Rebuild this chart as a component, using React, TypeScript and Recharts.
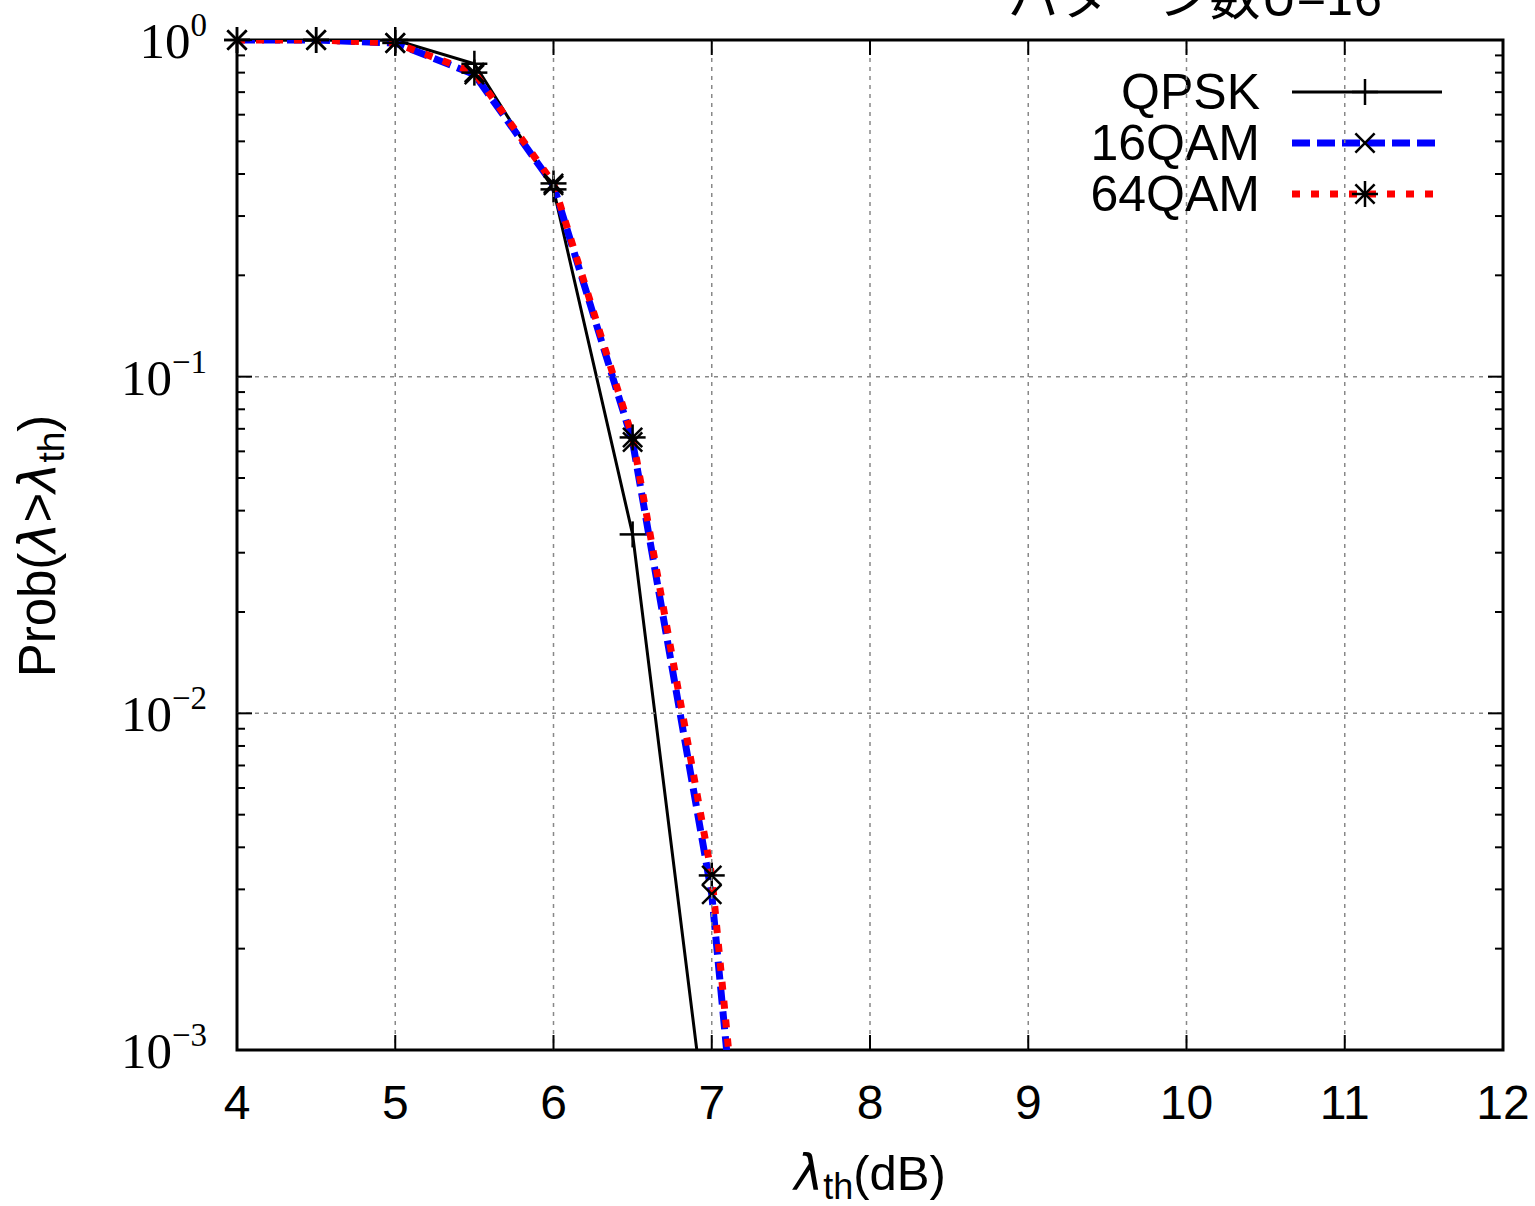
import { LineChart, Line, XAxis, YAxis, ReferenceArea, Customized } from "recharts";

// λth (dB) sample points
const thresholds = [4, 4.5, 5, 5.5, 6, 6.5, 7, 7.5];
const qpsk = [1, 1, 1, 0.85, 0.36, 0.034, 0.00044];
const qam16 = [1, 1, 0.98, 0.79, 0.37, 0.064, 0.0029, 0.00001];
const qam64 = [1, 1, 0.98, 0.8, 0.375, 0.066, 0.0033, 0.000012];

const xTicks = [4, 5, 6, 7, 8, 9, 10, 11, 12];
const decades = [1, 0.1, 0.01, 0.001];
const minorSteps = [2, 3, 4, 5, 6, 7, 8, 9];

const W = 1535;
const H = 1206;
const PL = 237;
const PR = 1503;
const PT = 40;
const PB = 1050;
const YMIN = 0.001;

const data = thresholds.map((x, i) => ({
  x,
  qpsk: qpsk[i],
  qam16: qam16[i],
  qam64: qam64[i],
}));

const yTicks = [
  ...decades,
  ...decades.slice(1).flatMap((d) => minorSteps.map((m) => d * m)),
];

const series = [
  { key: "qpsk", name: "QPSK", color: "#000", width: 3, dash: undefined, marker: "plus" },
  { key: "qam16", name: "16QAM", color: "#0000ff", width: 7, dash: "18 7", marker: "cross" },
  { key: "qam64", name: "64QAM", color: "#ff0000", width: 7, dash: "8 11", marker: "star" },
];

function markerShape(kind: string, cx: number, cy: number) {
  const r = 12;
  const plus = (
    <g key="p">
      <line x1={cx - r - 1} x2={cx + r + 1} y1={cy} y2={cy} stroke="#000" strokeWidth={2.5} />
      <line x1={cx} x2={cx} y1={cy - r - 1} y2={cy + r + 1} stroke="#000" strokeWidth={2.5} />
    </g>
  );
  const d = r * 0.8;
  const cross = (
    <g key="c">
      <line x1={cx - d} x2={cx + d} y1={cy - d} y2={cy + d} stroke="#000" strokeWidth={2.5} />
      <line x1={cx - d} x2={cx + d} y1={cy + d} y2={cy - d} stroke="#000" strokeWidth={2.5} />
    </g>
  );
  if (kind === "plus") return <g>{plus}</g>;
  if (kind === "cross") return <g>{cross}</g>;
  return (
    <g>
      {plus}
      {cross}
    </g>
  );
}

const makeDot = (kind: string) => (props: any) => {
  const { cx, cy, index } = props;
  if (cx == null || cy == null || isNaN(cx) || isNaN(cy)) return <g key={index} />;
  return <g key={index}>{markerShape(kind, cx, cy)}</g>;
};

function YTick(props: any) {
  const { y, payload } = props;
  const v = payload.value;
  const lg = Math.log10(v);
  const exp = Math.round(lg);
  const major = Math.abs(lg - exp) < 1e-9;
  const len = major ? 15 : 8;
  return (
    <g>
      {major && v < 1 && v > YMIN && (
        <line x1={PL} x2={PR} y1={y} y2={y} stroke="#888" strokeWidth={1.5} strokeDasharray="4 5" />
      )}
      <line x1={PL} x2={PL + len} y1={y} y2={y} stroke="#000" strokeWidth={2} />
      <line x1={PR} x2={PR - len} y1={y} y2={y} stroke="#000" strokeWidth={2} />
      {major && (
        <text x={207} y={y + 18} textAnchor="end" fontFamily="Liberation Serif" fontSize={51} fill="#000">
          10
          <tspan dy={-22} fontSize={33}>
            {exp === 0 ? "0" : "\u2212" + -exp}
          </tspan>
        </text>
      )}
    </g>
  );
}

function XTick(props: any) {
  const { x, payload } = props;
  const v = payload.value;
  return (
    <g>
      {v > 4 && v < 12 && (
        <line x1={x} x2={x} y1={PT} y2={PB} stroke="#888" strokeWidth={1.5} strokeDasharray="4 5" />
      )}
      <line x1={x} x2={x} y1={PB} y2={PB - 15} stroke="#000" strokeWidth={2} />
      <line x1={x} x2={x} y1={PT} y2={PT + 15} stroke="#000" strokeWidth={2} />
      <text x={x} y={1119} textAnchor="middle" fontFamily="Liberation Sans" fontSize={48} fill="#000">
        {v}
      </text>
    </g>
  );
}

function LegendBox() {
  const ox = 1060;
  const oy = 60;
  return (
    <g>
      {series.map((s, i) => {
        const cy = oy + 32 + i * 51;
        return (
          <g key={s.key}>
            <text x={ox + 200} y={cy + 17} textAnchor="end" fontFamily="Liberation Sans" fontSize={50} fill="#000">
              {s.name}
            </text>
            <line x1={ox + 232} x2={ox + 382} y1={cy} y2={cy} stroke={s.color} strokeWidth={s.width} strokeDasharray={s.dash} />
            {markerShape(s.marker, ox + 305, cy)}
          </g>
        );
      })}
    </g>
  );
}

function Extras() {
  return (
    <g>
      <text x={1008} y={15} fontFamily="Noto Sans CJK JP" fontSize={51} fill="#000">
        パターン数U=16
      </text>
      <text x={870} y={1190} textAnchor="middle" fontFamily="Liberation Sans" fontSize={49} fill="#000">
        <tspan fontFamily="DejaVu Sans" fontStyle="italic">λ</tspan>
        <tspan fontSize={36} dy={9}>th</tspan>
        <tspan dy={-9}>(dB)</tspan>
      </text>
      <text
        x={55}
        y={546}
        textAnchor="middle"
        transform="rotate(-90 55 546)"
        fontFamily="Liberation Sans"
        fontSize={51}
        fill="#000"
      >
        Prob(
        <tspan fontFamily="DejaVu Sans" fontStyle="italic">λ</tspan>
        &gt;
        <tspan fontFamily="DejaVu Sans" fontStyle="italic">λ</tspan>
        <tspan fontSize={37} dy={9}>th</tspan>
        <tspan dy={-9}>)</tspan>
      </text>
      <LegendBox />
    </g>
  );
}

export default function App() {
  return (
    <div style={{ position: "absolute", left: 0, top: 0, width: W, height: H, background: "#fff" }}>
      <LineChart width={W} height={H} data={data} margin={{ top: PT, right: W - PR, bottom: 0, left: 0 }}>
        <XAxis
          dataKey="x"
          type="number"
          domain={[4, 12]}
          ticks={xTicks}
          interval={0}
          height={H - PB}
          tickSize={0}
          tickMargin={0}
          axisLine={false}
          tickLine={false}
          tick={<XTick />}
        />
        <YAxis
          scale="log"
          domain={[YMIN, 1]}
          ticks={yTicks}
          interval={0}
          allowDataOverflow
          width={PL}
          tickSize={0}
          tickMargin={0}
          axisLine={false}
          tickLine={false}
          tick={<YTick />}
        />
        {/* same log scale, only carries in-range points so markers on the frame aren't clipped */}
        <YAxis yAxisId="marks" scale="log" domain={[YMIN, 1]} hide width={0} />
        {series.map((s) => (
          <Line
            key={s.key}
            dataKey={s.key}
            type="linear"
            stroke={s.color}
            strokeWidth={s.width}
            strokeDasharray={s.dash}
            dot={false}
            activeDot={false}
            isAnimationActive={false}
          />
        ))}
        {series.map((s) => (
          <Line
            key={s.key + "-marks"}
            yAxisId="marks"
            dataKey={(d: any) => (d[s.key] != null && d[s.key] >= YMIN ? d[s.key] : null)}
            stroke="none"
            dot={makeDot(s.marker)}
            activeDot={false}
            legendType="none"
            isAnimationActive={false}
          />
        ))}
        <ReferenceArea x1={4} x2={12} y1={YMIN} y2={1} fill="none" stroke="#000" strokeWidth={3} ifOverflow="visible" />
        <Customized component={<Extras />} />
      </LineChart>
    </div>
  );
}
